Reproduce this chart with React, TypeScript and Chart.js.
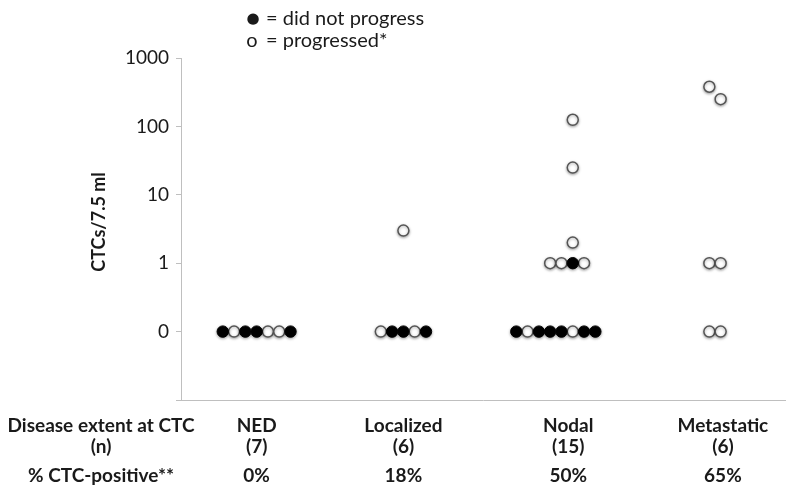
import React, { useEffect, useRef } from "react";
import { Chart, registerables } from "chart.js";

Chart.register(...registerables);

// ---- data ----
const categories = ["NED", "Localized", "Nodal", "Metastatic"];
const categoryN = [7, 6, 15, 6];
const ctcPositive = ["0%", "18%", "50%", "65%"];
// category centres on the x axis (in dot-width units)
const categoryX = [6.7, 19.7, 34.3, 48.0];

// each point: [offset from category centre (dot widths), CTCs/7.5 ml, progressed (1) or not (0)]
const nedPoints = [
  [-3, 0, 0], [-2, 0, 1], [-1, 0, 0], [0, 0, 0], [1, 0, 1], [2, 0, 1], [3, 0, 0],
];
const localizedPoints = [
  [-2, 0, 1], [-1, 0, 0], [0, 0, 0], [1, 0, 1], [2, 0, 0],
  [0, 3, 1],
];
const nodalPoints = [
  [-4.6, 0, 0], [-3.6, 0, 1], [-2.6, 0, 0], [-1.6, 0, 0], [-0.6, 0, 0], [0.4, 0, 1], [1.4, 0, 0], [2.4, 0, 0],
  [-1.6, 1, 1], [-0.6, 1, 1], [0.4, 1, 0], [1.4, 1, 1],
  [0.4, 2, 1], [0.4, 25, 1], [0.4, 125, 1],
];
const metastaticPoints = [
  [-1.2, 0, 1], [-0.2, 0, 1],
  [-1.2, 1, 1], [-0.2, 1, 1],
  [-1.2, 380, 1], [-0.2, 250, 1],
];
const pointsByCategory = [nedPoints, localizedPoints, nodalPoints, metastaticPoints];

const yTickValues = [0.01, 0.1, 1, 10, 100, 1000];
const yTickLabels = ["", "0", "1", "10", "100", "1000"];
const ZERO_PLOT = 0.1; // a count of 0 is plotted on the "0" row of the log axis

const legendSymbols = ["\u25CF", "o"];
const legendTexts = ["= did not progress", "= progressed*"];
const rowHeaders = ["Disease extent at CTC", "(n)", "% CTC-positive**"];
const yTitle = "CTCs/7.5 ml";

const FONT = "Lato, 'Open Sans', sans-serif";

function buildSeries(progressed: number) {
  const out: { x: number; y: number }[] = [];
  pointsByCategory.forEach((pts, ci) => {
    pts.forEach(([off, v, p]) => {
      if (p === progressed) out.push({ x: categoryX[ci] + off, y: v === 0 ? ZERO_PLOT : v });
    });
  });
  return out;
}

const textPlugin = {
  id: "textPlugin",
  afterDraw(chart: any) {
    const ctx = chart.ctx;
    const xs = chart.scales.x;
    ctx.save();
    ctx.fillStyle = "#1a1a1a";
    // legend
    ctx.textBaseline = "middle";
    ctx.textAlign = "center";
    ctx.font = `15px 'DejaVu Sans', sans-serif`;
    ctx.fillText(legendSymbols[0], 253, 19);
    ctx.font = `20px ${FONT}`;
    ctx.fillText(legendSymbols[1], 252, 41);
    ctx.textAlign = "left";
    ctx.font = `20px ${FONT}`;
    ctx.fillText(legendTexts[0], 266, 19);
    ctx.fillText(legendTexts[1], 266, 41);
    // y title
    ctx.save();
    ctx.translate(99, 222);
    ctx.rotate(-Math.PI / 2);
    ctx.font = `bold 18px ${FONT}`;
    ctx.textAlign = "center";
    ctx.fillText(yTitle, 0, 0);
    ctx.restore();
    // bottom table
    ctx.font = `bold 19px ${FONT}`;
    ctx.textAlign = "center";
    const rowsY = [426, 447, 476];
    rowHeaders.forEach((h, i) => ctx.fillText(h, 101, rowsY[i]));
    categories.forEach((c, i) => {
      const px = xs.getPixelForValue(categoryX[i]);
      ctx.fillText(c, px, rowsY[0]);
      ctx.fillText(`(${categoryN[i]})`, px, rowsY[1]);
      ctx.fillText(ctcPositive[i], px, rowsY[2]);
    });
    ctx.restore();
  },
};

const shadowPlugin = {
  id: "shadowPlugin",
  beforeDatasetsDraw(chart: any) {
    const ctx = chart.ctx;
    ctx.save();
    ctx.shadowColor = "rgba(0,0,0,0.35)";
    ctx.shadowBlur = 3;
    ctx.shadowOffsetY = 1;
  },
  afterDatasetsDraw(chart: any) {
    chart.ctx.restore();
  },
};

export default function App() {
  const ref = useRef<HTMLCanvasElement>(null);
  useEffect(() => {
    if (!ref.current) return;
    const chart = new Chart(ref.current, {
      type: "scatter",
      data: {
        datasets: [
          {
            label: "did not progress",
            data: buildSeries(0),
            backgroundColor: "#000",
            borderColor: "#000",
            borderWidth: 1,
            pointRadius: 5.7,
            pointHoverRadius: 5.7,
          },
          {
            label: "progressed",
            data: buildSeries(1),
            backgroundColor: "#fff",
            borderColor: "#555",
            borderWidth: 1.5,
            pointRadius: 5.5,
            pointHoverRadius: 5.5,
          },
        ],
      },
      options: {
        animation: false,
        responsive: false,
        layout: { padding: { left: 0, top: 58, right: 2, bottom: 93 } },
        plugins: { legend: { display: false }, tooltip: { enabled: false } },
        scales: {
          x: {
            type: "linear",
            min: 0,
            max: 53.5,
            ticks: { display: false },
            grid: { display: true, drawOnChartArea: false, drawTicks: false, color: "#bfbfbf" },
            border: { display: true, color: "#bfbfbf", width: 1 },
          },
          y: {
            type: "logarithmic",
            min: 0.01,
            max: 1000,
            afterBuildTicks: (scale: any) => {
              scale.ticks = yTickValues.map((v) => ({ value: v }));
            },
            afterFit: (scale: any) => {
              scale.width = 181;
            },
            ticks: {
              autoSkip: false,
              padding: 7,
              color: "#1a1a1a",
              font: { family: FONT, size: 19 },
              callback: (_v: any, i: number) => yTickLabels[i],
            },
            grid: { drawOnChartArea: false, drawTicks: true, tickLength: 5, color: "#bfbfbf" },
            border: { display: true, color: "#bfbfbf", width: 1 },
          },
        },
      },
      plugins: [shadowPlugin, textPlugin],
    });
    return () => chart.destroy();
  }, []);
  return (
    <div style={{ position: "fixed", left: 0, top: 0, width: 792, height: 493, background: "#fff" }}>
      <canvas ref={ref} width={792} height={493} style={{ width: 792, height: 493 }} />
    </div>
  );
}
